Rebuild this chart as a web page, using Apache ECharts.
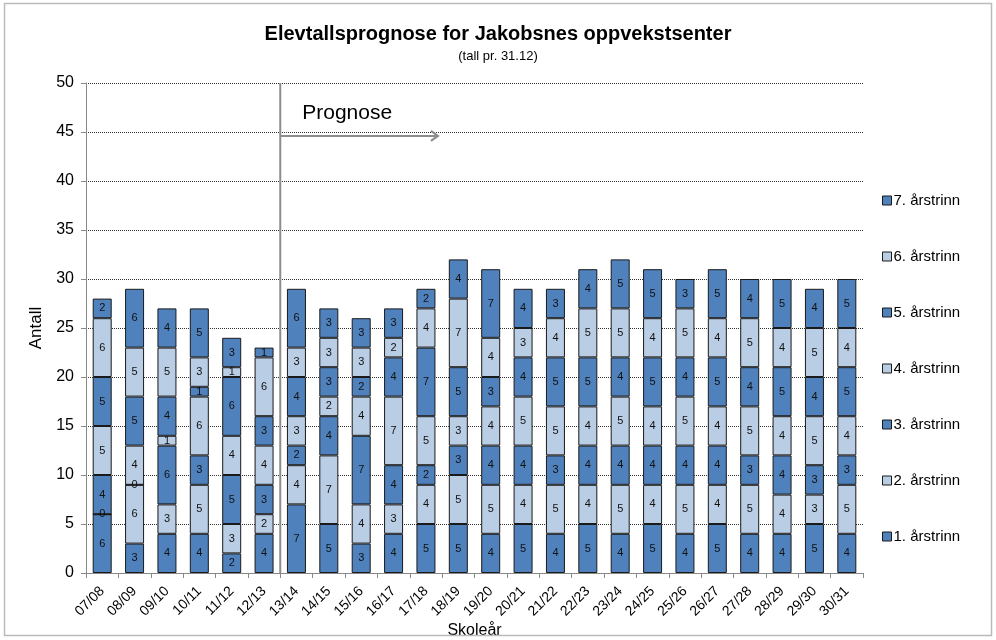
<!DOCTYPE html>
<html><head><meta charset="utf-8">
<script src="https://cdn.jsdelivr.net/npm/echarts@6/dist/echarts.min.js"></script>
<style>html,body{margin:0;padding:0;background:#fff}#c{width:996px;height:640px}</style>
</head><body><div id="c"></div>
<script>
const categories = ["07/08","08/09","09/10","10/11","11/12","12/13","13/14","14/15","15/16","16/17","17/18","18/19","19/20","20/21","21/22","22/23","23/24","24/25","25/26","26/27","27/28","28/29","29/30","30/31"];
const trinn1 = [6,3,4,4,2,4,7,5,3,4,5,5,4,5,4,5,4,5,4,5,4,4,5,4];
const trinn2 = [0,6,3,5,3,2,4,7,4,3,4,5,5,4,5,4,5,4,5,4,5,4,3,5];
const trinn3 = [4,0,6,3,5,3,2,4,7,4,2,3,4,4,3,4,4,4,4,4,3,4,3,3];
const trinn4 = [5,4,1,6,4,4,3,2,4,7,5,3,4,5,5,4,5,4,5,4,5,4,5,4];
const trinn5 = [5,5,4,1,6,3,4,3,2,4,7,5,3,4,5,5,4,5,4,5,4,5,4,5];
const trinn6 = [6,5,5,3,1,6,3,3,3,2,4,7,4,3,4,5,5,4,5,4,5,4,5,4];
const trinn7 = [2,6,4,5,3,1,6,3,3,3,2,4,7,4,3,4,5,5,3,5,4,5,4,5];
const seriesNames = ["1. årstrinn","2. årstrinn","3. årstrinn","4. årstrinn","5. årstrinn","6. årstrinn","7. årstrinn"];
const yTicks = [0,5,10,15,20,25,30,35,40,45,50];
const prognoseStart = "13/14";

const dark = '#4F81BD', light = '#B9CDE5';
const seriesData = [trinn1,trinn2,trinn3,trinn4,trinn5,trinn6,trinn7];
const totals = categories.map((_, i) => seriesData.reduce((s, a) => s + a[i], 0));
const font = '"Liberation Sans", Arial, sans-serif';

const series = seriesData.map((d, k) => ({
  name: seriesNames[k], type: 'bar', stack: 'tot', data: d, barWidth: 19,
  itemStyle: { color: k % 2 === 0 ? dark : light, borderColor: '#1a1a1a', borderWidth: 1 },
  label: { show: true, position: 'inside', color: '#111', fontSize: 11, fontFamily: font },
  emphasis: { disabled: true }
}));
series.push({
  name: 'Sum', type: 'line', data: totals, symbol: 'none', lineStyle: { opacity: 0 },
  label: { show: true, position: 'top', distance: 11, color: '#111', fontSize: 12, fontFamily: font },
  z: 5
});

const chart = echarts.init(document.getElementById('c'), null, { renderer: 'canvas' });
chart.setOption({
  animation: false,
  backgroundColor: '#fff',
  title: {
    text: 'Elevtallsprognose for Jakobsnes oppvekstsenter',
    subtext: '(tall pr. 31.12)',
    left: 'center', top: 19, itemGap: 6,
    textStyle: { fontFamily: font, fontWeight: 'bold', fontSize: 20, color: '#000' },
    subtextStyle: { fontFamily: font, fontSize: 13, color: '#000' }
  },
  legend: {
    data: seriesNames.slice().reverse(), orient: 'vertical', left: 877, top: 188,
    icon: 'rect', itemWidth: 9, itemHeight: 9, itemGap: 41,
    textStyle: { fontFamily: font, fontSize: 15, color: '#000', padding: [0,0,0,-3] },
    itemStyle: { borderColor: '#1a1a1a', borderWidth: 1 }
  },
  grid: { left: 86, right: 133, top: 83, bottom: 67, containLabel: false, outerBoundsMode: 'none' },
  xAxis: {
    type: 'category', data: categories,
    name: 'Skoleår', nameLocation: 'middle', nameGap: 50, nameMoveOverlap: false,
    nameTextStyle: { fontFamily: font, fontSize: 16, color: '#000' },
    axisLine: { lineStyle: { color: '#888' } },
    axisTick: { show: true, alignWithLabel: false, lineStyle: { color: '#888' }, length: 5 },
    axisLabel: { rotate: 45, fontFamily: font, fontSize: 14, color: '#000', margin: 16 }
  },
  yAxis: {
    type: 'value', min: 0, max: 50, interval: 5,
    name: 'Antall', nameLocation: 'middle', nameGap: 40,
    nameTextStyle: { fontFamily: font, fontSize: 17, color: '#000' },
    axisLine: { show: true, lineStyle: { color: '#888' } },
    axisTick: { show: true, lineStyle: { color: '#888' }, length: 5 },
    axisLabel: { fontFamily: font, fontSize: 16, color: '#000', margin: 12 },
    splitLine: { lineStyle: { color: '#333', type: [1, 1], width: 1 } }
  },
  series: series
});

// Prognose annotation, positioned from the axis scales
const idx = categories.indexOf(prognoseStart);
const p0 = chart.convertToPixel({ gridIndex: 0 }, [idx - 1, 0]);
const p1 = chart.convertToPixel({ gridIndex: 0 }, [idx, 50]);
const xDiv = (p0[0] + chart.convertToPixel({ gridIndex: 0 }, [idx, 0])[0]) / 2;
const yArrow = chart.convertToPixel({ gridIndex: 0 }, [idx, 44.6])[1];
const xArrowEnd = chart.convertToPixel({ gridIndex: 0 }, [idx + 4, 0])[0] + 12;
const yText = chart.convertToPixel({ gridIndex: 0 }, [idx, 46.9])[1];
chart.setOption({
  graphic: [
    { type: 'rect', shape: { x: 4.5, y: 3.5, width: 987, height: 632 }, style: { fill: 'none', stroke: '#bbb', lineWidth: 1.5 }, silent: true, z: 100 },
    { type: 'line', shape: { x1: xDiv, y1: p1[1], x2: xDiv, y2: p0[1] }, style: { stroke: '#8c8c8c', lineWidth: 2 }, z: 50 },
    { type: 'line', shape: { x1: xDiv, y1: yArrow, x2: xArrowEnd, y2: yArrow }, style: { stroke: '#8c8c8c', lineWidth: 2 }, z: 50 },
    { type: 'polyline', shape: { points: [[xArrowEnd - 7, yArrow - 5], [xArrowEnd, yArrow], [xArrowEnd - 7, yArrow + 5]] }, style: { stroke: '#8c8c8c', lineWidth: 2, fill: 'none' }, z: 50 },
    { type: 'text', x: xDiv + 22, y: yText, style: { text: 'Prognose', font: '21px ' + font, fill: '#000', textVerticalAlign: 'middle' }, z: 50 }
  ]
});
</script></body></html>
